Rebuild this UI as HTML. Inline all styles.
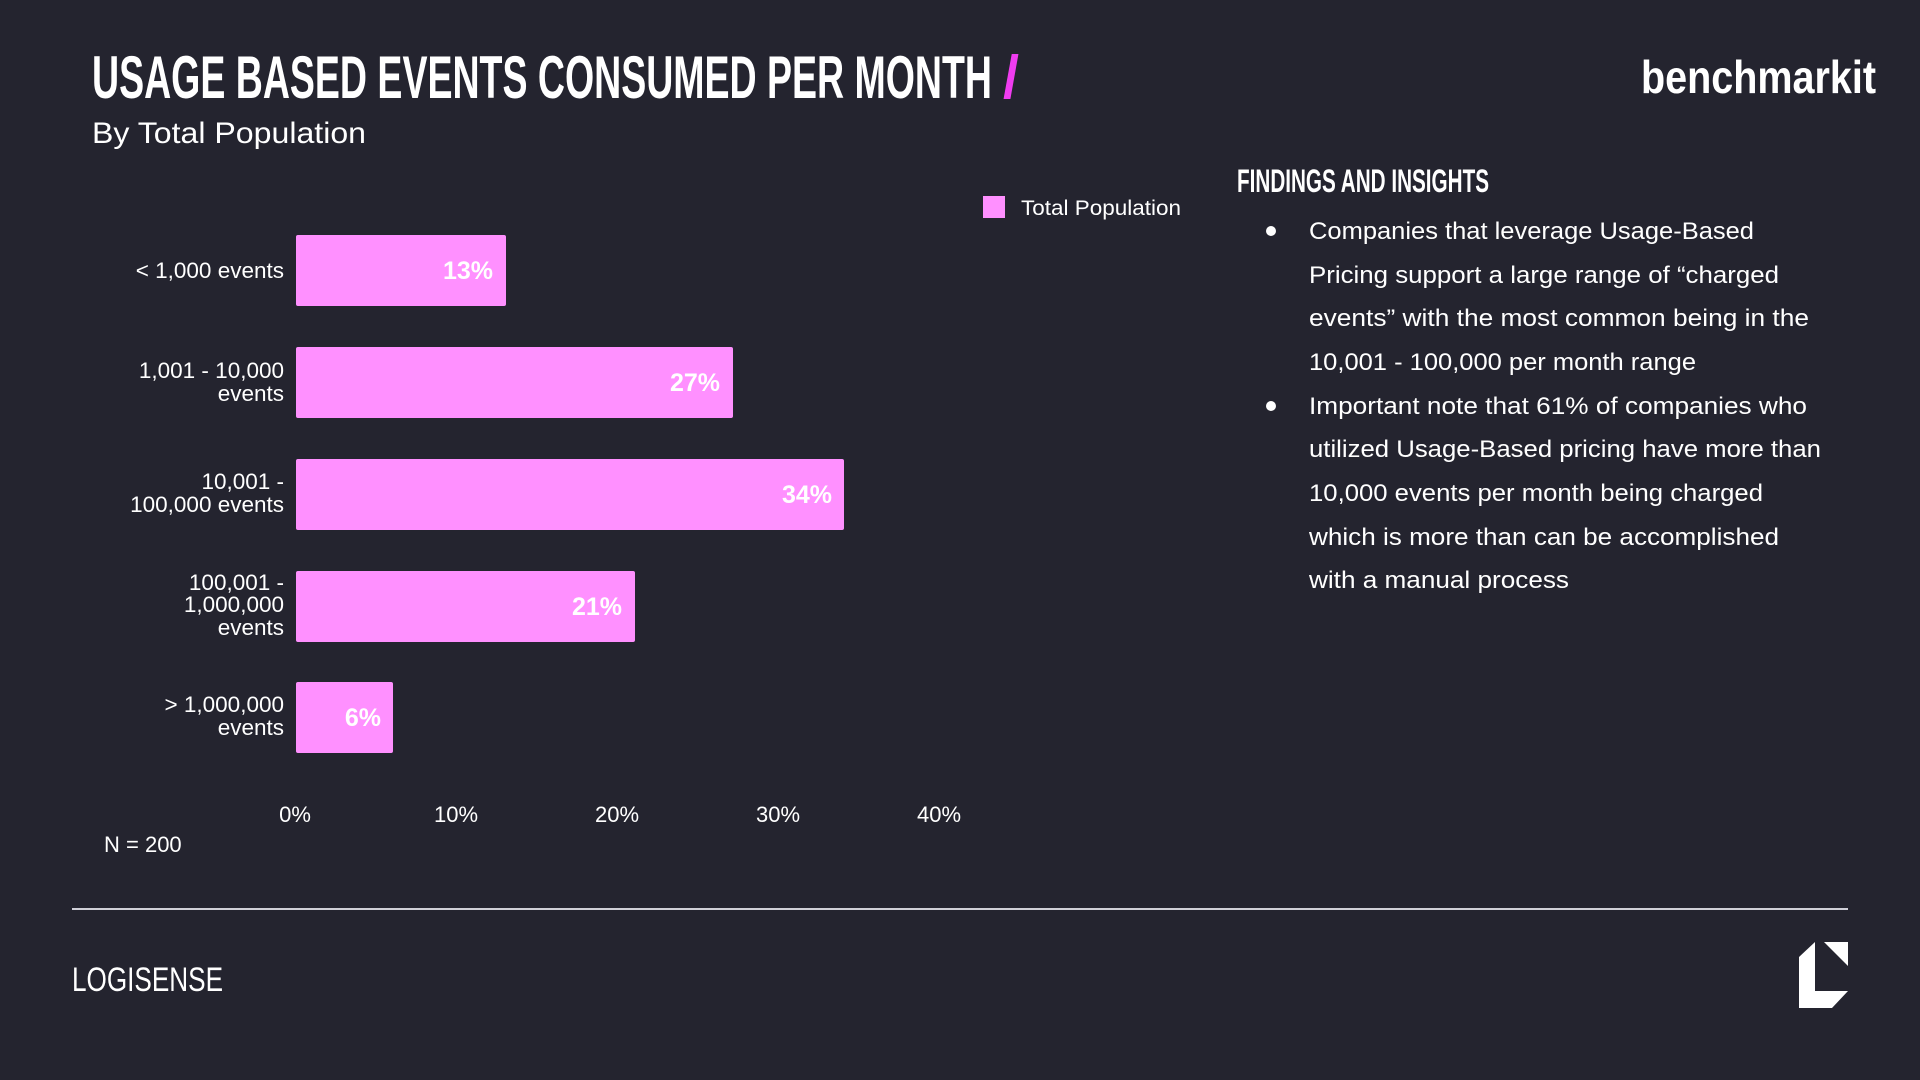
<!DOCTYPE html>
<html><head><meta charset="utf-8"><style>
html,body{margin:0;padding:0;background:#24242f;}
svg{display:block}
text{font-family:"Liberation Sans",sans-serif;fill:#fff}
</style></head><body>
<svg width="1920" height="1080" viewBox="0 0 1920 1080" xmlns="http://www.w3.org/2000/svg">
<rect width="1920" height="1080" fill="#24242f"/>
<text x="92" y="98" font-size="60" font-weight="bold" textLength="900" lengthAdjust="spacingAndGlyphs">USAGE BASED EVENTS CONSUMED PER MONTH</text>
<text x="1003" y="98" font-size="60" font-weight="bold" style="fill:#f03cf0" textLength="16" lengthAdjust="spacingAndGlyphs">/</text>
<text x="92" y="143" font-size="30" textLength="274" lengthAdjust="spacingAndGlyphs">By Total Population</text>
<text x="1641" y="93" font-size="46" font-weight="bold" textLength="235" lengthAdjust="spacingAndGlyphs">benchmarkit</text>

<rect x="983" y="196" width="22" height="22" fill="#ff90ff"/>
<text x="1021" y="215" font-size="21" textLength="160" lengthAdjust="spacingAndGlyphs">Total Population</text>

<g fill="#ff90ff">
<rect x="296" y="235" width="210" height="71" rx="2"/>
<rect x="296" y="347" width="437" height="71" rx="2"/>
<rect x="296" y="459" width="548" height="71" rx="2"/>
<rect x="296" y="571" width="339" height="71" rx="2"/>
<rect x="296" y="682" width="97" height="71" rx="2"/>
</g>
<g font-size="25" font-weight="bold" text-anchor="end">
<text x="493" y="279">13%</text>
<text x="720" y="391">27%</text>
<text x="832" y="503">34%</text>
<text x="622" y="615">21%</text>
<text x="381" y="726">6%</text>
</g>
<g font-size="22.5" text-anchor="end">
<text x="284" y="278">&lt; 1,000 events</text>
<text x="284" y="378">1,001 - 10,000</text>
<text x="284" y="401">events</text>
<text x="284" y="489">10,001 -</text>
<text x="284" y="512">100,000 events</text>
<text x="284" y="590">100,001 -</text>
<text x="284" y="612">1,000,000</text>
<text x="284" y="635">events</text>
<text x="284" y="712">&gt; 1,000,000</text>
<text x="284" y="735">events</text>
</g>
<g font-size="22" text-anchor="middle">
<text x="295" y="822">0%</text>
<text x="456" y="822">10%</text>
<text x="617" y="822">20%</text>
<text x="778" y="822">30%</text>
<text x="939" y="822">40%</text>
</g>
<text x="104" y="852" font-size="22">N = 200</text>

<text x="1237" y="192" font-size="32" font-weight="bold" textLength="252" lengthAdjust="spacingAndGlyphs">FINDINGS AND INSIGHTS</text>
<circle cx="1271" cy="231" r="5" fill="#fff"/>
<circle cx="1271" cy="406" r="5" fill="#fff"/>
<g font-size="24">
<text x="1309" y="239" textLength="445" lengthAdjust="spacingAndGlyphs">Companies that leverage Usage-Based</text>
<text x="1309" y="283" textLength="470" lengthAdjust="spacingAndGlyphs">Pricing support a large range of “charged</text>
<text x="1309" y="326" textLength="500" lengthAdjust="spacingAndGlyphs">events” with the most common being in the</text>
<text x="1309" y="370" textLength="387" lengthAdjust="spacingAndGlyphs">10,001 - 100,000 per month range</text>
<text x="1309" y="414" textLength="498" lengthAdjust="spacingAndGlyphs">Important note that 61% of companies who</text>
<text x="1309" y="457" textLength="512" lengthAdjust="spacingAndGlyphs">utilized Usage-Based pricing have more than</text>
<text x="1309" y="501" textLength="454" lengthAdjust="spacingAndGlyphs">10,000 events per month being charged</text>
<text x="1309" y="545" textLength="470" lengthAdjust="spacingAndGlyphs">which is more than can be accomplished</text>
<text x="1309" y="588" textLength="260" lengthAdjust="spacingAndGlyphs">with a manual process</text>
</g>

<rect x="72" y="908" width="1776" height="2" fill="#d0d0d8"/>
<text x="72" y="991" font-size="34" textLength="151" lengthAdjust="spacingAndGlyphs">LOGISENSE</text>
<polygon points="1799,957 1815,942 1815,991 1848,991 1832,1008 1799,1008" fill="#fff"/>
<polygon points="1824,942 1848,942 1848,966" fill="#fff"/>
</svg>
</body></html>
